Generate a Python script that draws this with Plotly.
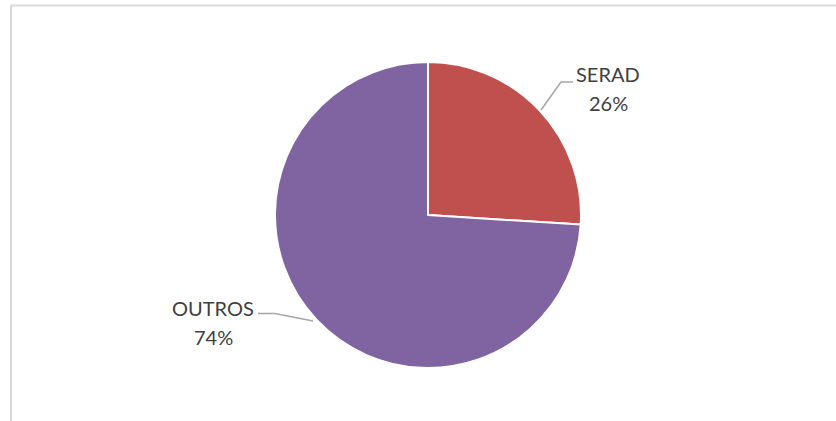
import plotly.graph_objects as go

# Data
labels = ["SERAD", "OUTROS"]
values = [26, 74]
colors = ["#C0504D", "#8064A2"]

W, H = 836, 421

def px(x):
    return x / W

def py(y):
    return 1 - y / H

cx, cy, r = 428, 215, 153

fig = go.Figure()
fig.add_trace(go.Pie(
    labels=labels,
    values=values,
    sort=False,
    direction="clockwise",
    rotation=0,
    marker=dict(colors=colors, line=dict(color="#FFFFFF", width=2)),
    textinfo="none",
    hoverinfo="label+percent",
    showlegend=False,
    domain=dict(x=[px(cx - r), px(cx + r)], y=[py(cy + r), py(cy - r)]),
))

font = dict(family="Lato, Liberation Sans, Arial, sans-serif", size=20, color="#404040")
total = sum(values)
label_pos = [(608, 74, 103), (213, 308, 337)]
annotations = []
for lab, val, (x, y1, y2) in zip(labels, values, label_pos):
    pct = f"{round(100 * val / total)}%"
    annotations.append(dict(x=px(x), y=py(y1), xref="paper", yref="paper", text=lab,
                            showarrow=False, xanchor="center", yanchor="middle", font=font))
    annotations.append(dict(x=px(x), y=py(y2), xref="paper", yref="paper", text=pct,
                            showarrow=False, xanchor="center", yanchor="middle", font=font))

leader = dict(color="#A6A6A6", width=1.5)
shapes = [
    # frame
    dict(type="line", xref="paper", yref="paper", x0=px(11), x1=px(W + 5), y0=py(5.5), y1=py(5.5),
         line=dict(color="#D9D9D9", width=2)),
    dict(type="line", xref="paper", yref="paper", x0=px(11), x1=px(11), y0=py(5.5), y1=py(H + 5),
         line=dict(color="#D9D9D9", width=2)),
    # leader lines
    dict(type="path", xref="paper", yref="paper",
         path=f"M {px(541)} {py(110)} L {px(561)} {py(82)} L {px(573)} {py(82)}", line=leader),
    dict(type="path", xref="paper", yref="paper",
         path=f"M {px(258)} {py(313.5)} L {px(275)} {py(313.5)} L {px(313)} {py(321)}", line=leader),
]

fig.update_layout(
    width=W, height=H,
    margin=dict(l=0, r=0, t=0, b=0),
    paper_bgcolor="#FFFFFF",
    plot_bgcolor="#FFFFFF",
    annotations=annotations,
    shapes=shapes,
)

fig.write_html("out.html", config={"displayModeBar": False},
               post_script="document.body.style.margin='0px';document.body.style.overflow='hidden';")
